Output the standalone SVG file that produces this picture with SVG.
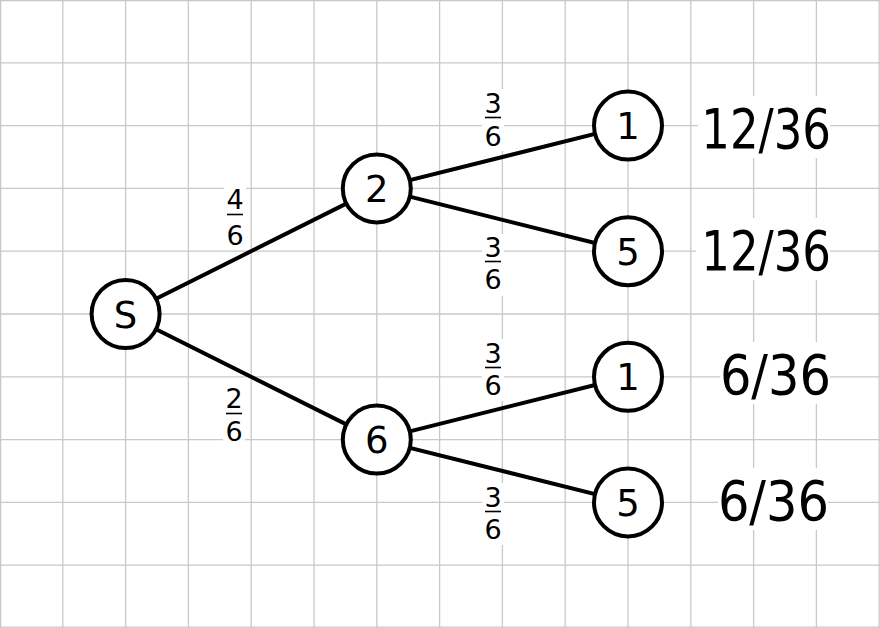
<svg xmlns="http://www.w3.org/2000/svg" width="880" height="628" viewBox="0 0 880 628">
<style>
.grid line{stroke:#c8c8c8;stroke-width:1.3}
.edge{stroke:#000;stroke-width:4;stroke-linecap:round}
.node circle{fill:#fff;stroke:#000;stroke-width:4}
.nl{font-family:"DejaVu Sans",sans-serif;font-size:37px;text-anchor:middle;fill:#000}
.fr{font-family:"DejaVu Sans",sans-serif;font-size:27px;text-anchor:middle;fill:#000}
.bar{stroke:#000;stroke-width:1.6}
.res{font-family:"DejaVu Sans Condensed","DejaVu Sans",sans-serif;font-size:55px;text-anchor:end;fill:#000}
.bg{fill:#fff}
</style>
<rect x="0" y="0" width="880" height="628" fill="#fff"/>
<g class="grid">
<line x1="0.6" y1="0" x2="0.6" y2="628"/>
<line x1="62.8" y1="0" x2="62.8" y2="628"/>
<line x1="125.6" y1="0" x2="125.6" y2="628"/>
<line x1="188.4" y1="0" x2="188.4" y2="628"/>
<line x1="251.2" y1="0" x2="251.2" y2="628"/>
<line x1="314" y1="0" x2="314" y2="628"/>
<line x1="376.8" y1="0" x2="376.8" y2="628"/>
<line x1="439.6" y1="0" x2="439.6" y2="628"/>
<line x1="502.4" y1="0" x2="502.4" y2="628"/>
<line x1="565.2" y1="0" x2="565.2" y2="628"/>
<line x1="628" y1="0" x2="628" y2="628"/>
<line x1="690.8" y1="0" x2="690.8" y2="628"/>
<line x1="753.6" y1="0" x2="753.6" y2="628"/>
<line x1="816.4" y1="0" x2="816.4" y2="628"/>
<line x1="879.2" y1="0" x2="879.2" y2="628"/>
<line x1="0" y1="0.6" x2="880" y2="0.6"/>
<line x1="0" y1="62.8" x2="880" y2="62.8"/>
<line x1="0" y1="125.6" x2="880" y2="125.6"/>
<line x1="0" y1="188.4" x2="880" y2="188.4"/>
<line x1="0" y1="251.2" x2="880" y2="251.2"/>
<line x1="0" y1="314" x2="880" y2="314"/>
<line x1="0" y1="376.8" x2="880" y2="376.8"/>
<line x1="0" y1="439.6" x2="880" y2="439.6"/>
<line x1="0" y1="502.4" x2="880" y2="502.4"/>
<line x1="0" y1="565.2" x2="880" y2="565.2"/>
<line x1="0" y1="627.2" x2="880" y2="627.2"/>
</g>
<g id="label-boxes">
<rect class="bg" x="224" y="186" width="22" height="64"/>
<rect class="bg" x="223" y="385" width="22" height="64"/>
<rect class="bg" x="482" y="89" width="22" height="62"/>
<rect class="bg" x="482" y="234" width="22" height="62"/>
<rect class="bg" x="482" y="339" width="22" height="62"/>
<rect class="bg" x="482" y="483" width="22" height="62"/>
<rect class="bg" x="698" y="96" width="132" height="62"/>
<rect class="bg" x="696" y="218" width="134" height="62"/>
<rect class="bg" x="720" y="342" width="110" height="62"/>
<rect class="bg" x="718" y="468" width="110" height="62"/>
</g>
<g id="connectors">
<line class="edge" x1="125.6" y1="314" x2="376.8" y2="188.4"/>
<line class="edge" x1="125.6" y1="314" x2="376.8" y2="439.6"/>
<line class="edge" x1="376.8" y1="188.4" x2="628" y2="125.6"/>
<line class="edge" x1="376.8" y1="188.4" x2="628" y2="251.2"/>
<line class="edge" x1="376.8" y1="439.6" x2="628" y2="376.8"/>
<line class="edge" x1="376.8" y1="439.6" x2="628" y2="502.4"/>
</g>
<g id="edge-labels">
<g id="p-S-2"><text class="fr" x="235" y="209">4</text><line class="bar" x1="227" y1="214.5" x2="243" y2="214.5"/><text class="fr" x="235" y="245">6</text></g>
<g id="p-S-6"><text class="fr" x="234" y="408">2</text><line class="bar" x1="226" y1="413.5" x2="242" y2="413.5"/><text class="fr" x="234" y="441">6</text></g>
<g id="p-2-1"><text class="fr" x="493" y="113">3</text><line class="bar" x1="485" y1="117.5" x2="501" y2="117.5"/><text class="fr" x="493" y="146">6</text></g>
<g id="p-2-5"><text class="fr" x="493" y="257">3</text><line class="bar" x1="485" y1="261.5" x2="501" y2="261.5"/><text class="fr" x="493" y="289">6</text></g>
<g id="p-6-1"><text class="fr" x="493" y="363">3</text><line class="bar" x1="485" y1="367.5" x2="501" y2="367.5"/><text class="fr" x="493" y="395">6</text></g>
<g id="p-6-5"><text class="fr" x="493" y="507">3</text><line class="bar" x1="485" y1="511.5" x2="501" y2="511.5"/><text class="fr" x="493" y="539">6</text></g>
</g>
<g id="node-S" class="node"><circle cx="125.6" cy="314" r="34"/><text class="nl" x="125.6" y="327.5">S</text></g>
<g id="node-2" class="node"><circle cx="376.8" cy="188.4" r="34"/><text class="nl" x="376.8" y="201.9">2</text></g>
<g id="node-6" class="node"><circle cx="376.8" cy="439.6" r="34"/><text class="nl" x="376.8" y="453.1">6</text></g>
<g id="node-2-1" class="node"><circle cx="628" cy="125.6" r="34"/><text class="nl" x="628" y="139.1">1</text></g>
<g id="node-2-5" class="node"><circle cx="628" cy="251.2" r="34"/><text class="nl" x="628" y="264.7">5</text></g>
<g id="node-6-1" class="node"><circle cx="628" cy="376.8" r="34"/><text class="nl" x="628" y="390.3">1</text></g>
<g id="node-6-5" class="node"><circle cx="628" cy="502.4" r="34"/><text class="nl" x="628" y="515.9">5</text></g>
<g id="results">
<text class="res" transform="translate(831 148) scale(0.91 1)">12/36</text>
<text class="res" transform="translate(831 270) scale(0.91 1)">12/36</text>
<text class="res" x="831" y="394">6/36</text>
<text class="res" x="829" y="520">6/36</text>
</g>
</svg>
